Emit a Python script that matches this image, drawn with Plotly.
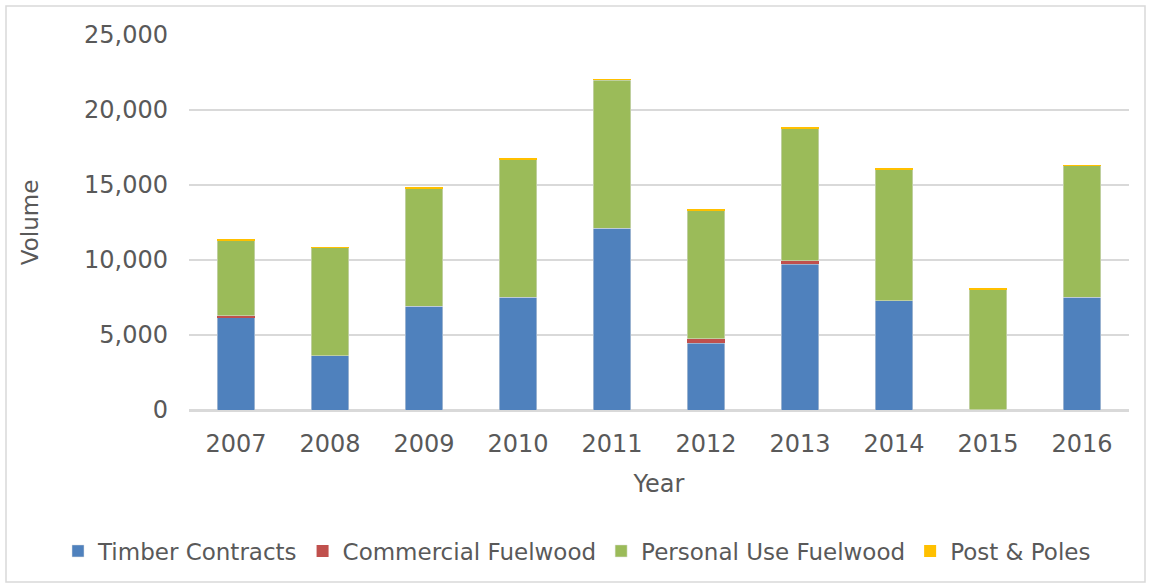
import plotly.graph_objects as go

years = ["2007", "2008", "2009", "2010", "2011", "2012", "2013", "2014", "2015", "2016"]
timber = [6150, 3620, 6930, 7530, 12130, 4440, 9730, 7270, 30, 7530]
commercial = [130, 0, 0, 0, 0, 300, 220, 0, 0, 0]
personal = [5000, 7200, 7850, 9200, 9870, 8590, 8800, 8780, 8020, 8760]
posts = [150, 40, 90, 20, 60, 60, 70, 90, 40, 40]

series = [
    ("Timber Contracts", timber, "#4F81BD", 0.5),
    ("Commercial Fuelwood", commercial, "#C0504D", 0),
    ("Personal Use Fuelwood", personal, "#9BBB59", 0.5),
    ("Post & Poles", posts, "#FFC000", 0),
]

fig = go.Figure()
for name, vals, color, lw in series:
    fig.add_trace(go.Bar(
        x=years, y=vals, name=name,
        marker=dict(color=color, line=dict(color="#E3E3E3", width=lw)),
    ))

L, R, T, B = 189, 22, 35, 177
W, H = 1151, 587
pw, ph = W - L - R, H - T - B

fig.update_layout(
    width=W, height=H,
    barmode="stack",
    bargap=0.6,
    plot_bgcolor="white",
    paper_bgcolor="white",
    margin=dict(l=L, r=R, t=T, b=B, autoexpand=False),
    font=dict(family="DejaVu Sans", color="#595959", size=24),
    xaxis=dict(
        title=dict(text="Year", font=dict(size=24), standoff=19),
        showgrid=False, ticks="", tickfont=dict(size=24),
        ticklabelstandoff=11,
        showline=True, linecolor="#D9D9D9", linewidth=1.5,
    ),
    yaxis=dict(
        title=dict(text="Volume", font=dict(size=23), standoff=38),
        range=[0, 25000], dtick=5000, tickformat=",",
        gridcolor="#D9D9D9", gridwidth=1.5,
        zeroline=True, zerolinecolor="#D9D9D9", zerolinewidth=1.5,
        tickfont=dict(size=24), ticklabelstandoff=20,
    ),
    legend=dict(
        orientation="h", xanchor="left",
        x=(58 - L) / pw,
        y=-(551 - (T + ph)) / ph, yanchor="middle",
        font=dict(size=23, color="#595959"),
        traceorder="normal",
        itemwidth=30,
    ),
    shapes=[dict(
        type="rect", xref="paper", yref="paper",
        x0=(6 - L) / pw, x1=(1145 - L) / pw,
        y0=-(582 - (T + ph)) / ph,
        y1=1 + (T - 6) / ph,
        line=dict(color="#D9D9D9", width=1.5),
    )],
)

fig.write_html("out.html")
